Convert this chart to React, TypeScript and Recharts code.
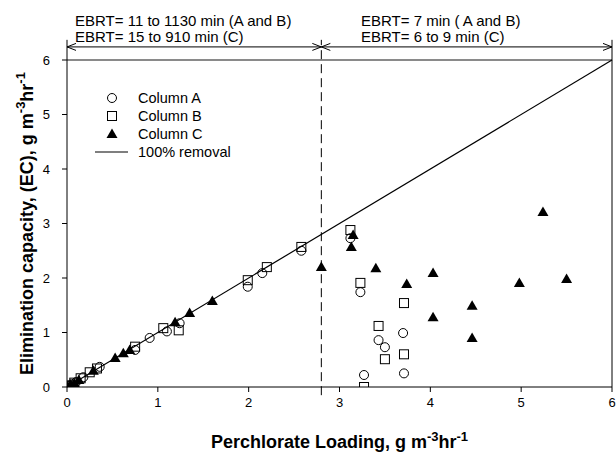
import React from 'react';
import { ScatterChart, Scatter, XAxis, YAxis, ReferenceLine, Label } from 'recharts';

const FONT = '"Liberation Sans", Arial, sans-serif';

const xTicks = [0, 1, 2, 3, 4, 5, 6];
const yTicks = [0, 1, 2, 3, 4, 5, 6];

// loading (x) vs elimination capacity (y), g m-3 hr-1
const columnA = [
  { x: 0.02, y: 0.02 }, { x: 0.05, y: 0.05 }, { x: 0.1, y: 0.09 }, { x: 0.18, y: 0.18 },
  { x: 0.36, y: 0.37 }, { x: 0.75, y: 0.68 }, { x: 0.91, y: 0.9 }, { x: 1.1, y: 1.02 },
  { x: 1.24, y: 1.17 }, { x: 1.99, y: 1.84 }, { x: 2.15, y: 2.09 }, { x: 2.58, y: 2.5 },
  { x: 3.12, y: 2.73 }, { x: 3.23, y: 1.74 }, { x: 3.27, y: 0.22 }, { x: 3.43, y: 0.86 },
  { x: 3.5, y: 0.73 }, { x: 3.7, y: 0.99 }, { x: 3.71, y: 0.25 },
];

const columnB = [
  { x: 0.03, y: 0.03 }, { x: 0.08, y: 0.08 }, { x: 0.15, y: 0.16 }, { x: 0.25, y: 0.27 },
  { x: 0.33, y: 0.34 }, { x: 0.75, y: 0.74 }, { x: 1.06, y: 1.08 }, { x: 1.23, y: 1.04 },
  { x: 1.99, y: 1.96 }, { x: 2.2, y: 2.2 }, { x: 2.58, y: 2.57 }, { x: 3.12, y: 2.88 },
  { x: 3.23, y: 1.91 }, { x: 3.27, y: 0.0 }, { x: 3.43, y: 1.12 }, { x: 3.5, y: 0.51 },
  { x: 3.71, y: 1.54 }, { x: 3.71, y: 0.6 },
];

const columnC = [
  { x: 0.01, y: 0.01 }, { x: 0.04, y: 0.04 }, { x: 0.08, y: 0.07 }, { x: 0.13, y: 0.13 },
  { x: 0.29, y: 0.3 }, { x: 0.53, y: 0.53 }, { x: 0.62, y: 0.62 }, { x: 0.69, y: 0.68 },
  { x: 1.19, y: 1.19 }, { x: 1.35, y: 1.36 }, { x: 1.6, y: 1.58 }, { x: 2.8, y: 2.2 },
  { x: 3.13, y: 2.57 }, { x: 3.15, y: 2.79 }, { x: 3.4, y: 2.18 }, { x: 3.74, y: 1.89 },
  { x: 4.03, y: 2.09 }, { x: 4.03, y: 1.28 }, { x: 4.46, y: 1.49 }, { x: 4.46, y: 0.9 },
  { x: 4.98, y: 1.91 }, { x: 5.24, y: 3.21 }, { x: 5.5, y: 1.98 },
];

// EBRT regime boundary and the bracket row above the plot
const regimeSplit = 2.8;
const bracketY = 6.24;
const bracketTop = 6.37;

const OpenCircle = (p: any) => (
  <circle cx={p.cx} cy={p.cy} r={4.5} fill="none" stroke="#000" strokeWidth={1} />
);

const OpenSquare = (p: any) => (
  <rect x={p.cx - 4.5} y={p.cy - 4.5} width={9} height={9} fill="none" stroke="#000" strokeWidth={1} />
);

const FilledTriangle = (p: any) => (
  <path d={`M${p.cx},${p.cy - 5.5} L${p.cx + 5.5},${p.cy + 4} L${p.cx - 5.5},${p.cy + 4} Z`} fill="#000" />
);

// double-headed open arrow between x1 and x2
const Bracket = (props: any) => {
  const { x1, y1, x2, y2 } = props;
  const h = 9;
  const w = 3.5;
  return (
    <g>
      <line x1={x1} y1={y1} x2={x2} y2={y2} stroke="#000" strokeWidth={1} />
      <path d={`M${x1 + h},${y1 - w} L${x1},${y1} L${x1 + h},${y1 + w}`} fill="none" stroke="#000" />
      <path d={`M${x2 - h},${y2 - w} L${x2},${y2} L${x2 - h},${y2 + w}`} fill="none" stroke="#000" />
    </g>
  );
};

const legendRows = [
  { name: 'Column A', icon: <circle cx={17} cy={9} r={4.5} fill="none" stroke="#000" /> },
  { name: 'Column B', icon: <rect x={12.5} y={4.5} width={9} height={9} fill="none" stroke="#000" /> },
  { name: 'Column C', icon: <path d="M17,3.5 L22.5,13 L11.5,13 Z" fill="#000" /> },
  { name: '100% removal', icon: <line x1={0} y1={9} x2={33} y2={9} stroke="#000" strokeWidth={1.2} /> },
];

const LegendBox = () => (
  <div style={{ position: 'absolute', left: 95, top: 89, fontFamily: FONT, fontSize: 14.5, color: '#000' }}>
    {legendRows.map((r) => (
      <div key={r.name} style={{ display: 'flex', alignItems: 'center', height: 18 }}>
        <svg width={43} height={18}>{r.icon}</svg>
        <span>{r.name}</span>
      </div>
    ))}
  </div>
);

const XTitle = ({ viewBox }: any) => {
  const cx = viewBox.x + viewBox.width / 2;
  return (
    <text x={cx} y={viewBox.y + 61} textAnchor="middle" fontFamily={FONT} fontWeight="bold" fontSize={18} fill="#000">
      Perchlorate Loading, g m<tspan dy={-7} fontSize={13}>-3</tspan>
      <tspan dy={7} fontSize={18}>hr</tspan>
      <tspan dy={-7} fontSize={13}>-1</tspan>
    </text>
  );
};

const YTitle = ({ viewBox }: any) => {
  const cy = viewBox.y + viewBox.height / 2;
  const x = 27;
  return (
    <text
      x={x}
      y={cy}
      transform={`rotate(-90 ${x} ${cy})`}
      textAnchor="middle"
      dominantBaseline="central"
      fontFamily={FONT}
      fontWeight="bold"
      fontSize={18}
      fill="#000"
    >
      Elimination capacity, (EC), g m<tspan dy={-7} fontSize={13}>-3</tspan>
      <tspan dy={7} fontSize={18}>hr</tspan>
      <tspan dy={-7} fontSize={13}>-1</tspan>
    </text>
  );
};

const tickStyle = { fill: '#000', fontSize: 13, fontFamily: FONT };

const noteStyle: React.CSSProperties = {
  position: 'absolute',
  top: 13,
  fontFamily: FONT,
  fontSize: 15,
  lineHeight: '16px',
  color: '#000',
};

export default function App() {
  return (
    <div style={{ position: 'absolute', left: 0, top: 0, width: 616, height: 458, background: '#fff' }}>
      <div style={{ ...noteStyle, left: 75 }}>
        <div>EBRT= 11 to 1130 min (A and B)</div>
        <div>EBRT= 15 to 910 min (C)</div>
      </div>
      <div style={{ ...noteStyle, left: 361 }}>
        <div>EBRT= 7 min ( A and B)</div>
        <div>EBRT= 6 to 9 min (C)</div>
      </div>
      <ScatterChart width={616} height={458} margin={{ top: 60, right: 4, bottom: 0, left: 0 }}>
        <XAxis
          type="number"
          dataKey="x"
          domain={[0, 6]}
          ticks={xTicks}
          height={71}
          tick={tickStyle}
          tickSize={5}
          tickMargin={6}
          stroke="#000"
          allowDataOverflow
        >
          <Label content={XTitle} />
        </XAxis>
        <YAxis
          type="number"
          dataKey="y"
          domain={[0, 6]}
          ticks={yTicks}
          width={67}
          tick={tickStyle}
          tickSize={5}
          tickMargin={12}
          stroke="#000"
          allowDataOverflow
        >
          <Label content={YTitle} />
        </YAxis>

        <ReferenceLine y={6} stroke="#8a8a8a" strokeWidth={2} />
        <ReferenceLine segment={[{ x: 6, y: 0 }, { x: 6, y: bracketTop }]} stroke="#000" ifOverflow="visible" />
        <ReferenceLine segment={[{ x: 0, y: 6 }, { x: 0, y: bracketTop }]} stroke="#000" ifOverflow="visible" />
        <ReferenceLine
          segment={[{ x: regimeSplit, y: -0.15 }, { x: regimeSplit, y: bracketTop }]}
          stroke="#000"
          strokeDasharray="9 5"
          ifOverflow="visible"
        />
        <ReferenceLine
          segment={[{ x: 0, y: bracketY }, { x: regimeSplit, y: bracketY }]}
          shape={Bracket}
          ifOverflow="visible"
        />
        <ReferenceLine
          segment={[{ x: regimeSplit, y: bracketY }, { x: 6, y: bracketY }]}
          shape={Bracket}
          ifOverflow="visible"
        />
        {/* 100% removal: EC equals loading */}
        <ReferenceLine segment={[{ x: 0, y: 0 }, { x: 6, y: 6 }]} stroke="#000" strokeWidth={1.2} />

        <Scatter name="Column A" data={columnA} shape={OpenCircle} isAnimationActive={false} />
        <Scatter name="Column B" data={columnB} shape={OpenSquare} isAnimationActive={false} />
        <Scatter name="Column C" data={columnC} shape={FilledTriangle} isAnimationActive={false} />
      </ScatterChart>
      <LegendBox />
    </div>
  );
}
